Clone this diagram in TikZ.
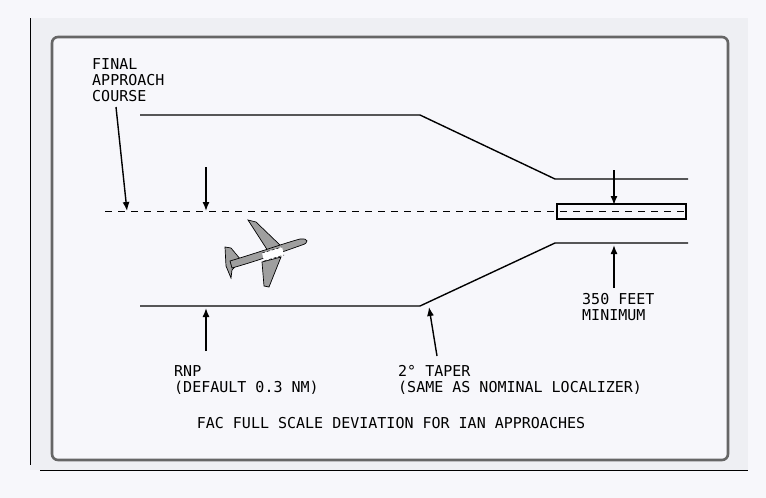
\documentclass[tikz,border=0pt]{standalone}
\usepackage{fontspec}
\setmonofont{DejaVu Sans Mono}
\begin{document}
\begin{tikzpicture}[x=1pt,y=-1pt,
  lbl/.style={font=\ttfamily\fontsize{15}{16}\selectfont,align=left,inner sep=0pt,anchor=north west},
  ln/.style={line width=1.4pt},
  arr/.style={line width=1.4pt,-{Latex[length=9pt,width=7pt]}}]
\usetikzlibrary{arrows.meta}
\definecolor{bgc}{HTML}{F7F7FB}\definecolor{panel}{HTML}{EEEFF3}\definecolor{frame}{HTML}{666666}
\fill[bgc] (0,0) rectangle (766,498);
\useasboundingbox (0,0) rectangle (766,498);
\fill[panel] (30,18) rectangle (748,470);
\draw[line width=0.8pt] (30,18) -- (30,465);
\draw[line width=0.8pt] (40,470) -- (748,470);
\draw[frame,line width=2.6pt,fill=bgc,rounded corners=6pt] (52,37) rectangle (728,460);
% corridor
\coordinate (t1) at (140,115);\coordinate (t2) at (420,115);\coordinate (t3) at (555,179);\coordinate (t4) at (688,179);
\coordinate (b1) at (140,306);\coordinate (b2) at (420,306);\coordinate (b3) at (555,243);\coordinate (b4) at (688,243);
\draw[ln] (t1)--(t2)--(t3)--(t4);
\draw[ln] (b1)--(b2)--(b3)--(b4);
\coordinate (c1) at (105,211);\coordinate (c2) at (688,211);
\draw[line width=0.8pt,dash pattern=on 7pt off 6pt] (c1)--(c2);
\node[draw,line width=1.2pt,minimum width=129pt,minimum height=15pt,inner sep=0pt] (box) at (621.5,211.5) {};
% labels
\node[lbl] (fac) at (92,58) {FINAL\\APPROACH\\COURSE};
\node[lbl] (rnp) at (174,365) {RNP\\(DEFAULT 0.3 NM)};
\node[lbl] (tap) at (398,365) {2° TAPER\\(SAME AS NOMINAL LOCALIZER)};
\node[lbl] (ft) at (582,293) {350 FEET\\MINIMUM};
\node[font=\ttfamily\fontsize{15}{16}\selectfont,inner sep=0pt] (title) at (391,423) {FAC FULL SCALE DEVIATION FOR IAN APPROACHES};
% arrows
\coordinate (a1s) at (116,107);\coordinate (a1e) at (127,211);
\draw[arr] (a1s)--(a1e);
\coordinate (a2s) at (206,167);\coordinate (a2e) at (206,211);
\draw[arr] (a2s)--(a2e);
\coordinate (a3s) at (614,170);\coordinate (a3e) at (614,205);
\draw[arr] (a3s)--(a3e);
\coordinate (a4s) at (614,288);\coordinate (a4e) at (614,245);
\draw[arr] (a4s)--(a4e);
\coordinate (a5s) at (206,351);\coordinate (a5e) at (206,308);
\draw[arr] (a5s)--(a5e);
\coordinate (a6s) at (437,356);\coordinate (a6e) at (429,307);
\draw[arr] (a6s)--(a6e);
% airplane
\begin{scope}[line width=0.7pt,fill=gray!75]
\filldraw (248,220) -- (256,222) -- (281,246) -- (268,251) -- cycle;
\filldraw (262,262) -- (281,257) -- (269,287) -- (264,286) -- cycle;
\filldraw (225,247) -- (231,248) -- (241,260) -- (232,270) -- (231,278) -- (226,266) -- cycle;
\filldraw (230,261) .. controls (260,252) and (285,243) .. (300,239) .. controls (309,238) and (309,243) .. (302,245) .. controls (285,251) and (260,260) .. (232,268) -- cycle;
\fill[white] (262,253) -- (282,247) -- (284,255) -- (264,261) -- cycle;
\draw[densely dashed,line width=0.5pt] (262,253)--(282,247);
\draw[densely dashed,line width=0.5pt] (264,261)--(284,255);
\end{scope}
\end{tikzpicture}
\end{document}
